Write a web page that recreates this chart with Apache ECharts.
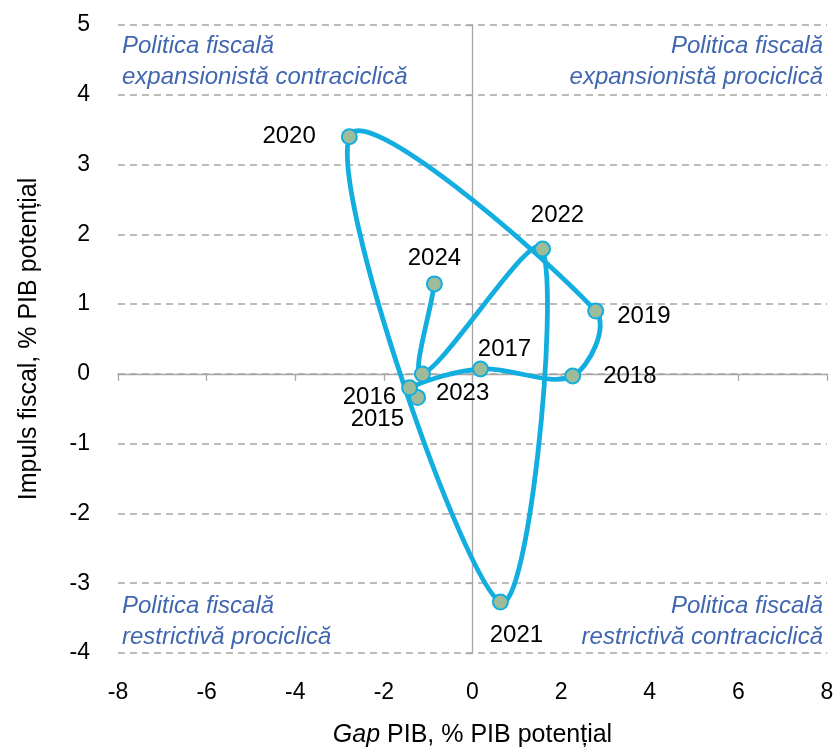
<!DOCTYPE html>
<html>
<head>
<meta charset="utf-8">
<script src="https://cdn.jsdelivr.net/npm/echarts@6/dist/echarts.min.js"></script>
<style>
  html, body { margin: 0; padding: 0; background: #fff; }
  #chart { width: 837px; height: 748px; }
</style>
</head>
<body>
<div id="chart"></div>
<script>
// data
var years = ['2015', '2016', '2017', '2018', '2019', '2020', '2021', '2022', '2023', '2024'];
var gapPib = [-1.24, -1.42, 0.18, 2.26, 2.78, -2.78, 0.63, 1.58, -1.13, -0.86];
var impulsFiscal = [-0.34, -0.2, 0.07, -0.03, 0.9, 3.4, -3.27, 1.79, 0.0, 1.29];

var xTicks = { min: -8, max: 8, interval: 2 };
var yTicks = { min: -4, max: 5, interval: 1 };

var FONT = 'Liberation Sans';
var lineColor = '#12AEE0';
var gridColor = '#A6A6A6';
var quadColor = '#4066B0';

// where each year label sits around its point
var labelPos = {
    '2015': { position: 'left', offset: [0, 22] },
    '2016': { position: 'left', offset: [0, 10] },
    '2017': { position: 'top', offset: [24, 6] },
    '2018': { position: 'right', distance: 22 },
    '2019': { position: 'right', offset: [8, 5] },
    '2020': { position: 'left', distance: 25 },
    '2021': { position: 'bottom', offset: [16, 8] },
    '2022': { position: 'top', offset: [15, -8] },
    '2023': { position: 'right', offset: [0, 19] },
    '2024': { position: 'top' }
};

var points = [];
for (var i = 0; i < years.length; i++) {
    points.push({
        name: years[i],
        value: [gapPib[i], impulsFiscal[i]],
        label: labelPos[years[i]]
    });
}

// spreadsheet-style smoothed path: one bezier piece per pair of points,
// control points from the neighbours (catmull-rom, weighted by piece length)
function pt(api, k) {
    k = Math.max(0, Math.min(years.length - 1, k));
    return api.coord([gapPib[k], impulsFiscal[k]]);
}
function dist(a, b) {
    return Math.sqrt((a[0] - b[0]) * (a[0] - b[0]) + (a[1] - b[1]) * (a[1] - b[1]));
}
function renderCurve(params, api) {
    var i = params.dataIndex;
    if (i >= years.length - 1) return;
    var p0 = pt(api, i - 1), p1 = pt(api, i), p2 = pt(api, i + 1), p3 = pt(api, i + 2);
    var d01 = dist(p0, p1), d12 = dist(p1, p2), d23 = dist(p2, p3);
    var f1 = (d01 + d12) > 0 ? d12 / (d01 + d12) / 3 : 0;
    var f2 = (d12 + d23) > 0 ? d12 / (d12 + d23) / 3 : 0;
    return {
        type: 'bezierCurve',
        shape: {
            x1: p1[0], y1: p1[1],
            x2: p2[0], y2: p2[1],
            cpx1: p1[0] + (p2[0] - p0[0]) * f1,
            cpy1: p1[1] + (p2[1] - p0[1]) * f1,
            cpx2: p2[0] - (p3[0] - p1[0]) * f2,
            cpy2: p2[1] - (p3[1] - p1[1]) * f2
        },
        style: { stroke: lineColor, lineWidth: 4.8, fill: null, lineCap: 'round' }
    };
}

// quadrant captions, one text per line
function caption(text, side, top) {
    var el = {
        type: 'text', top: top,
        style: { text: text, font: 'italic 24px ' + FONT, fill: quadColor }
    };
    if (side === 'left') el.left = 122; else el.right = 14;
    return el;
}

var myChart = echarts.init(document.getElementById('chart'));
var option = {
    animation: false,
    backgroundColor: '#fff',
    textStyle: { fontFamily: FONT },
    grid: { left: 118, right: 10, top: 25, bottom: 95, outerBoundsMode: 'none', containLabel: false },
    xAxis: [
        {
            type: 'value',
            min: xTicks.min, max: xTicks.max, interval: xTicks.interval,
            position: 'bottom',
            axisLine: { show: false, onZero: false },
            axisTick: { show: false },
            splitLine: { show: false },
            axisLabel: { margin: 28, fontSize: 23, color: '#000', fontFamily: FONT },
            name: '{i|Gap} PIB, % PIB potențial',
            nameLocation: 'middle',
            nameGap: 70,
            nameTextStyle: {
                fontSize: 25, color: '#000', fontFamily: FONT,
                rich: { i: { fontSize: 25, fontStyle: 'italic', color: '#000', fontFamily: FONT } }
            }
        },
        {
            type: 'value',
            min: xTicks.min, max: xTicks.max, interval: xTicks.interval,
            position: 'bottom',
            axisLine: { show: true, onZero: true, lineStyle: { color: gridColor, width: 1.3 } },
            axisTick: { show: true, length: 7, lineStyle: { color: gridColor, width: 1.3 } },
            axisLabel: { show: false },
            splitLine: { show: false }
        }
    ],
    yAxis: [
        {
            type: 'value',
            min: yTicks.min, max: yTicks.max, interval: yTicks.interval,
            position: 'left',
            axisLine: { show: false, onZero: false },
            axisTick: { show: false },
            splitLine: { show: true, lineStyle: { color: gridColor, width: 1.5, type: [7, 5] } },
            axisLabel: { margin: 28, fontSize: 23, color: '#000', fontFamily: FONT },
            name: 'Impuls fiscal, % PIB potențial',
            nameLocation: 'middle',
            nameGap: 76,
            nameTextStyle: { fontSize: 25, color: '#000', fontFamily: FONT }
        },
        {
            type: 'value',
            min: yTicks.min, max: yTicks.max, interval: yTicks.interval,
            position: 'left',
            axisLine: { show: true, onZero: true, lineStyle: { color: gridColor, width: 1.3 } },
            axisTick: { show: true, length: 7, lineStyle: { color: gridColor, width: 1.3 } },
            axisLabel: { show: false },
            splitLine: { show: false }
        }
    ],
    graphic: [
        caption('Politica fiscală', 'left', 34),
        caption('expansionistă contraciclică', 'left', 65),
        caption('Politica fiscală', 'right', 34),
        caption('expansionistă prociclică', 'right', 65),
        caption('Politica fiscală', 'left', 594),
        caption('restrictivă prociclică', 'left', 625),
        caption('Politica fiscală', 'right', 594),
        caption('restrictivă contraciclică', 'right', 625)
    ],
    series: [
        {
            name: 'Curba',
            type: 'custom',
            xAxisIndex: 0,
            yAxisIndex: 0,
            renderItem: renderCurve,
            data: points.map(function (p) { return p.value; }),
            z: 3,
            silent: true
        },
        {
            name: 'Impuls fiscal',
            type: 'scatter',
            xAxisIndex: 0,
            yAxisIndex: 0,
            data: points,
            symbol: 'circle',
            symbolSize: 15,
            itemStyle: { color: '#9EBB9A', borderColor: lineColor, borderWidth: 2, opacity: 1 },
            label: {
                show: true,
                formatter: '{b}',
                fontSize: 24,
                color: '#000',
                fontFamily: FONT
            },
            z: 5
        }
    ]
};
myChart.setOption(option);
</script>
</body>
</html>
